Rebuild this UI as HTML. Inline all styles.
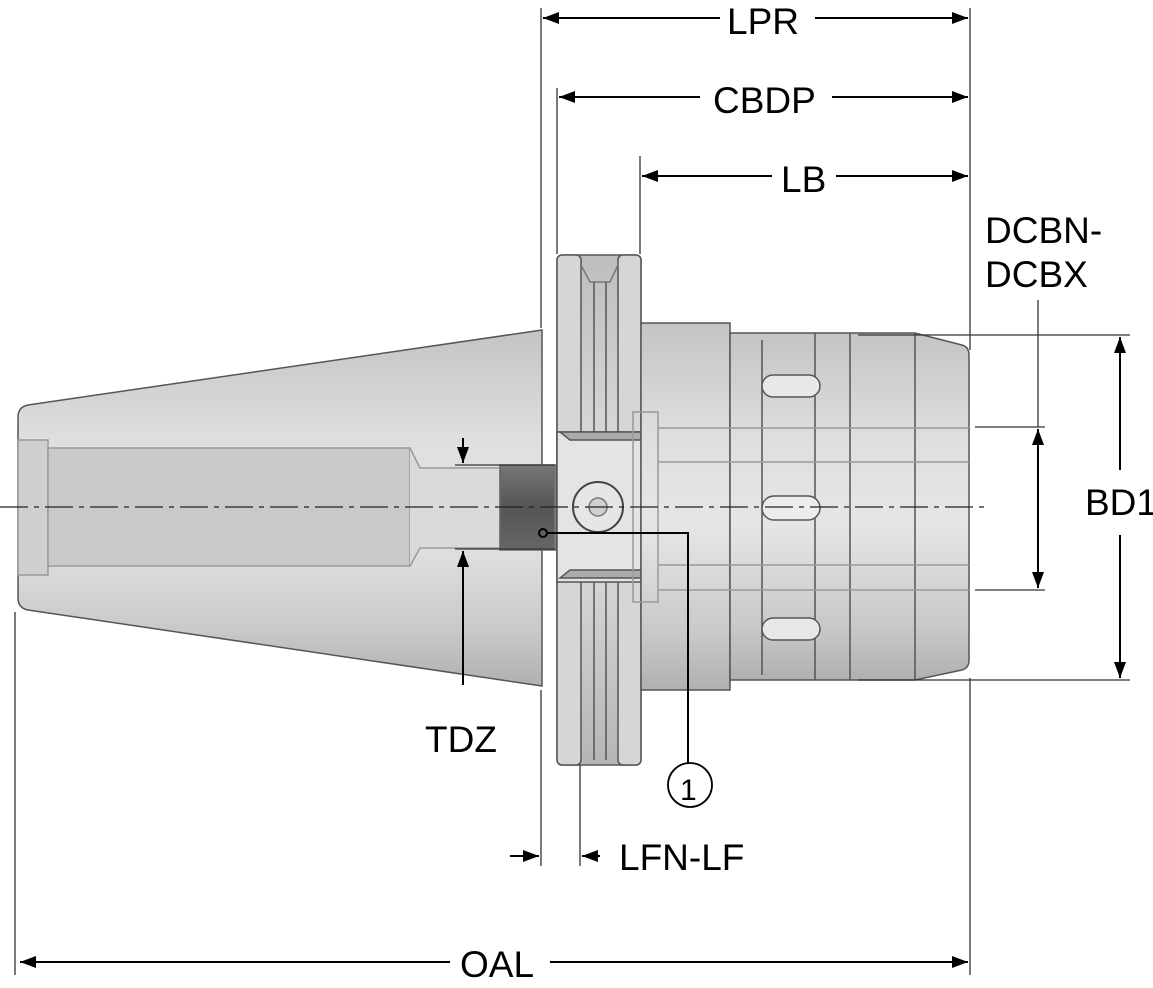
<!DOCTYPE html>
<html><head><meta charset="utf-8"><style>
html,body{margin:0;padding:0;background:#fff;}
svg{display:block;}
text{font-family:"Liberation Sans",sans-serif;font-size:37px;fill:#000;}
</style></head><body>
<svg width="1153" height="988" viewBox="0 0 1153 988" xmlns="http://www.w3.org/2000/svg">
<defs>
<linearGradient id="g" x1="0" y1="0" x2="0" y2="1">
<stop offset="0" stop-color="#c4c4c4"/><stop offset="0.3" stop-color="#dedede"/><stop offset="0.55" stop-color="#e6e6e6"/><stop offset="0.85" stop-color="#c8c8c8"/><stop offset="1" stop-color="#b0b0b0"/>
</linearGradient>
<linearGradient id="g2" x1="0" y1="0" x2="0" y2="1">
<stop offset="0" stop-color="#bdbdbd"/><stop offset="0.5" stop-color="#e2e2e2"/><stop offset="1" stop-color="#b5b5b5"/>
</linearGradient>
<linearGradient id="dk" x1="0" y1="0" x2="0" y2="1">
<stop offset="0" stop-color="#777"/><stop offset="0.5" stop-color="#555"/><stop offset="1" stop-color="#666"/>
</linearGradient>
<marker id="A" viewBox="0 0 16 12" refX="16" refY="6" markerWidth="16" markerHeight="12" markerUnits="userSpaceOnUse" orient="auto-start-reverse"><path d="M0,0 L16,6 L0,12 z" fill="#000"/></marker>
</defs>
<g stroke="#555" stroke-width="1.5">
<path d="M28,405 L542,330 L542,686 L28,610 Q18,608 18,598 L18,417 Q18,407 28,405 Z" fill="url(#g)"/>
<rect x="18" y="440" width="30" height="135" fill="#cfcfcf" stroke="#999"/>
<rect x="48" y="448" width="362" height="118" fill="#c9c9c9" stroke="#999"/>
<path d="M410,448 L420,468 L500,468 L500,548 L420,548 L410,566" fill="#dadada" stroke="#999"/>
<rect x="500" y="465" width="55" height="85" fill="url(#dk)" stroke="#666"/>
<path d="M555,465 L570,465 L583,485 L583,530 L570,550 L555,550 Z" fill="#888" stroke="#777"/>
<!-- flange -->
<rect x="557" y="255" width="84" height="510" rx="5" fill="url(#g2)"/>
<rect x="557" y="255" width="24" height="510" rx="5" fill="#d6d6d6"/>
<rect x="618" y="255" width="23" height="510" rx="5" fill="#d6d6d6"/>
<path d="M581,265 L590,282 L610,282 L618,265" fill="none" stroke="#777"/>
<line x1="594" y1="282" x2="594" y2="435"/><line x1="606" y1="282" x2="606" y2="435"/>
<line x1="594" y1="578" x2="594" y2="760"/><line x1="606" y1="578" x2="606" y2="760"/>
<rect x="557" y="432" width="84" height="150" fill="#e4e4e4"/>
<path d="M560,432 L641,432 L641,440 L570,440 Z" fill="#aaa"/>
<path d="M560,578 L641,578 L641,570 L570,570 Z" fill="#aaa"/>
<circle cx="598" cy="507" r="25" fill="#e6e6e6" stroke="#444" stroke-width="2"/>
<circle cx="598" cy="507" r="9" fill="#cfcfcf" stroke="#777"/>
<rect x="641" y="323" width="89" height="367" fill="url(#g)"/>
<rect x="633" y="412" width="25" height="190" fill="none" stroke="#999"/>
<path d="M730,333 L915,333 L962,345 Q969,347 969,355 L969,660 Q969,668 962,670 L915,680 L730,680 Z" fill="url(#g)"/>
<line x1="762" y1="340" x2="762" y2="675"/><line x1="815" y1="333" x2="815" y2="680"/><line x1="850" y1="333" x2="850" y2="680"/><line x1="915" y1="333" x2="915" y2="680"/>
<g stroke="#999" fill="none"><line x1="658" y1="428" x2="969" y2="428"/><line x1="658" y1="590" x2="969" y2="590"/><line x1="658" y1="462" x2="969" y2="462"/><line x1="658" y1="565" x2="969" y2="565"/></g>
<rect x="762" y="375" width="58" height="22" rx="11" fill="#e8e8e8" stroke="#555"/>
<rect x="762" y="496" width="58" height="24" rx="12" fill="#ececec" stroke="#555"/>
<rect x="762" y="618" width="58" height="22" rx="11" fill="#e8e8e8" stroke="#555"/>
</g>
<line x1="0" y1="507" x2="990" y2="507" stroke="#222" stroke-width="1.3" stroke-dasharray="28,6,5,6"/>
<g stroke="#333" stroke-width="1.3">
<line x1="541" y1="8" x2="541" y2="328"/><line x1="541" y1="690" x2="541" y2="866"/>
<line x1="557" y1="88" x2="557" y2="254"/>
<line x1="640" y1="156" x2="640" y2="254"/>
<line x1="970" y1="8" x2="970" y2="350"/><line x1="970" y1="678" x2="970" y2="975"/>
<line x1="580" y1="765" x2="580" y2="866"/>
<line x1="15" y1="612" x2="15" y2="975"/>
<line x1="858" y1="335" x2="1130" y2="335"/><line x1="858" y1="680" x2="1130" y2="680"/>
<line x1="975" y1="427" x2="1045" y2="427"/><line x1="975" y1="590" x2="1045" y2="590"/>
<line x1="1038" y1="300" x2="1038" y2="427"/>
<line x1="455" y1="465" x2="555" y2="465"/><line x1="455" y1="549" x2="555" y2="549"/>
</g>
<g stroke="#000" stroke-width="2" fill="none">
<line x1="543" y1="18" x2="720" y2="18" marker-start="url(#A)"/><line x1="815" y1="18" x2="968" y2="18" marker-end="url(#A)"/>
<line x1="559" y1="97" x2="700" y2="97" marker-start="url(#A)"/><line x1="832" y1="97" x2="968" y2="97" marker-end="url(#A)"/>
<line x1="642" y1="176" x2="772" y2="176" marker-start="url(#A)"/><line x1="836" y1="176" x2="968" y2="176" marker-end="url(#A)"/>
<line x1="1038" y1="429" x2="1038" y2="588" marker-start="url(#A)" marker-end="url(#A)"/>
<line x1="1120" y1="337" x2="1120" y2="470" marker-start="url(#A)"/><line x1="1120" y1="535" x2="1120" y2="678" marker-end="url(#A)"/>
<line x1="463" y1="438" x2="463" y2="463" marker-end="url(#A)"/>
<line x1="463" y1="685" x2="463" y2="551" marker-end="url(#A)"/>
<line x1="510" y1="856" x2="539" y2="856" marker-end="url(#A)"/>
<line x1="600" y1="856" x2="582" y2="856" marker-end="url(#A)"/>
<line x1="20" y1="962" x2="450" y2="962" marker-start="url(#A)"/><line x1="550" y1="962" x2="968" y2="962" marker-end="url(#A)"/>
<polyline points="546,533 688,533 688,763"/>
<circle cx="543" cy="533" r="4" stroke-width="2"/>
<circle cx="690" cy="785" r="22" stroke-width="1.8"/>
</g>
<text x="727" y="34">LPR</text>
<text x="713" y="113">CBDP</text>
<text x="781" y="192">LB</text>
<text x="985" y="243">DCBN-</text>
<text x="985" y="287">DCBX</text>
<text x="1085" y="515">BD1</text>
<text x="425" y="752">TDZ</text>
<text x="680" y="800" style="font-size:30px">1</text>
<text x="619" y="870">LFN-LF</text>
<text x="460" y="977">OAL</text>
</svg>
</body></html>
